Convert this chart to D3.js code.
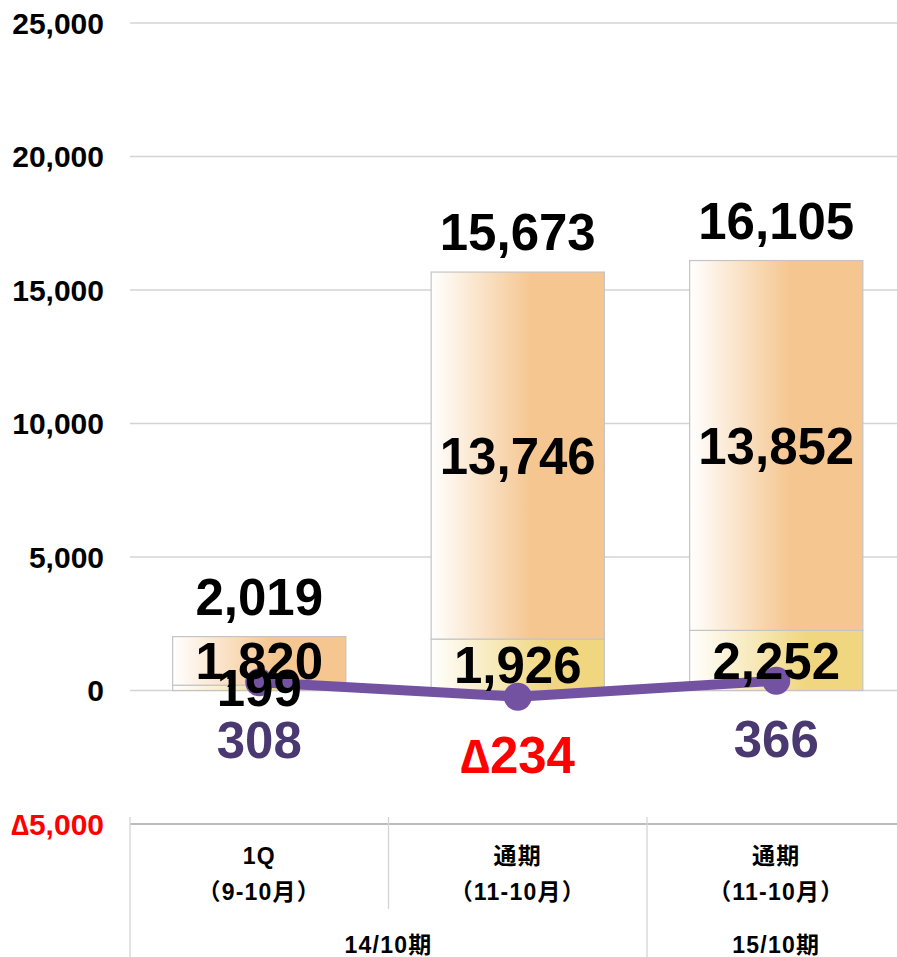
<!DOCTYPE html>
<html><head><meta charset="utf-8">
<script src="https://cdn.jsdelivr.net/npm/d3@7"></script>
<style>
html,body{margin:0;padding:0;background:#fff;}
svg{display:block;}
</style></head>
<body>
<script>
const categories = ["14/10 1Q", "14/10 通期", "15/10 通期"];
const catLine1 = ["1Q", "通期", "通期"];
const catLine2 = ["（9-10月）", "（11-10月）", "（11-10月）"];
const groupLabels = ["14/10期", "15/10期"];
const groupSpans = [[0, 1], [2, 2]];
const segBottom = [199, 1926, 2252];
const segTop = [1820, 13746, 13852];
const totals = [2019, 15673, 16105];
const lineValues = [308, -234, 366];
const yTicks = [-5000, 0, 5000, 10000, 15000, 20000, 25000];

const W = 897, H = 957;
const FONT = "'Liberation Sans', Arial, 'Noto Sans CJK JP', sans-serif";
const svg = d3.select("body").append("svg").attr("width", W).attr("height", H);

const y = d3.scaleLinear().domain([-5000, 25000]).range([824, 23]);
const xCat = d3.scaleBand().domain(categories).range([130, 905.5]).padding(0);
const xBar = d3.scaleBand().domain(categories).range([130, 905.5]).paddingInner(0.33).paddingOuter(0.165);

const defs = svg.append("defs");
function grad(id, col, at) {
  const g = defs.append("linearGradient").attr("id", id).attr("x1", 0).attr("x2", 1).attr("y1", 0).attr("y2", 0);
  g.append("stop").attr("offset", 0).attr("stop-color", "#ffffff");
  g.append("stop").attr("offset", at).attr("stop-color", col);
  g.append("stop").attr("offset", 1).attr("stop-color", col);
}
grad("gOrange", "#F5C690", 0.58);
grad("gYellow", "#F0D67F", 0.68);

// gridlines
svg.append("g").selectAll("line").data(yTicks).join("line")
  .attr("x1", 130).attr("x2", W)
  .attr("y1", d => y(d)).attr("y2", d => y(d))
  .attr("stroke", d => d === -5000 ? "#A6A6A6" : "#D4D4D4")
  .attr("stroke-width", 1.3);

const fmt = d3.format(",");
function signed(sel, d, triSize) {
  if (d < 0) {
    sel.append("tspan").attr("font-size", triSize).text("∆");
    sel.append("tspan").text(fmt(-d));
  } else {
    sel.text(fmt(d));
  }
}

// y tick labels
svg.append("g").selectAll("text").data(yTicks).join("text")
  .attr("x", 104).attr("y", d => y(d) + 10.7)
  .attr("text-anchor", "end")
  .attr("font-family", FONT).attr("font-weight", "bold").attr("font-size", 30)
  .attr("fill", d => d < 0 ? "#FF0000" : "#000")
  .each(function (d) { signed(d3.select(this), d, 29); });

// category separators
const sepX = [xCat(categories[0]), xCat(categories[1]), xCat(categories[2])];
svg.append("g").selectAll("line").data(sepX).join("line")
  .attr("x1", d => d).attr("x2", d => d)
  .attr("y1", 817).attr("y2", (d, i) => i === 1 ? 909 : H)
  .attr("stroke", "#D4D4D4").attr("stroke-width", 1.3);

// bars
const bars = svg.append("g");
bars.selectAll("rect.bot").data(categories).join("rect")
  .attr("x", d => xBar(d)).attr("width", xBar.bandwidth())
  .attr("y", (d, i) => y(segBottom[i])).attr("height", (d, i) => y(0) - y(segBottom[i]))
  .attr("fill", "url(#gYellow)").attr("stroke", "#C4C4C4").attr("stroke-width", 1.2);
bars.selectAll("rect.top").data(categories).join("rect")
  .attr("x", d => xBar(d)).attr("width", xBar.bandwidth())
  .attr("y", (d, i) => y(segBottom[i] + segTop[i])).attr("height", (d, i) => y(segBottom[i]) - y(segBottom[i] + segTop[i]))
  .attr("fill", "url(#gOrange)").attr("stroke", "#C4C4C4").attr("stroke-width", 1.2);

// line
const cx = d => xCat(d) + xCat.bandwidth() / 2;
const lineGen = d3.line().x((d, i) => cx(categories[i])).y(d => y(d));
svg.append("path").datum(lineValues).attr("d", lineGen)
  .attr("fill", "none").attr("stroke", "#7353A1").attr("stroke-width", 10);
svg.append("g").selectAll("circle").data(lineValues).join("circle")
  .attr("cx", (d, i) => cx(categories[i])).attr("cy", d => y(d)).attr("r", 14)
  .attr("fill", "#7353A1");

// value labels
const big = 51, capOff = 0.358 * big;
const lab = svg.append("g").attr("font-family", FONT).attr("font-weight", "bold").attr("font-size", big).attr("text-anchor", "middle");
lab.selectAll("text.bot").data(categories).join("text")
  .attr("x", d => cx(d)).attr("y", (d, i) => (y(0) + y(segBottom[i])) / 2 + capOff)
  .attr("fill", "#000").text((d, i) => fmt(segBottom[i]));
lab.selectAll("text.top").data(categories).join("text")
  .attr("x", d => cx(d)).attr("y", (d, i) => (y(segBottom[i]) + y(segBottom[i] + segTop[i])) / 2 + capOff)
  .attr("fill", "#000").text((d, i) => fmt(segTop[i]));
lab.selectAll("text.tot").data(categories).join("text")
  .attr("x", d => cx(d)).attr("y", (d, i) => y(segBottom[i] + segTop[i]) - 22)
  .attr("fill", "#000").text((d, i) => fmt(totals[i]));
lab.selectAll("text.ln").data(lineValues).join("text")
  .attr("x", (d, i) => cx(categories[i])).attr("y", d => y(d) + 76)
  .attr("fill", d => d < 0 ? "#FF0000" : "#4A3870")
  .each(function (d) { signed(d3.select(this), d, 48); });

// x labels
const xl = svg.append("g").attr("font-family", FONT).attr("font-weight", "bold").attr("font-size", 23)
  .attr("letter-spacing", 1.2).attr("text-anchor", "middle").attr("fill", "#000");
xl.selectAll("text.l1").data(categories).join("text")
  .attr("x", d => cx(d)).attr("y", 864).text((d, i) => catLine1[i]);
xl.selectAll("text.l2").data(categories).join("text")
  .attr("x", d => cx(d)).attr("y", 900).text((d, i) => catLine2[i]);
xl.selectAll("text.g").data(groupLabels).join("text")
  .attr("x", (d, i) => (xCat(categories[groupSpans[i][0]]) + xCat(categories[groupSpans[i][1]]) + xCat.bandwidth()) / 2)
  .attr("y", 953).text(d => d);
</script>
</body></html>
